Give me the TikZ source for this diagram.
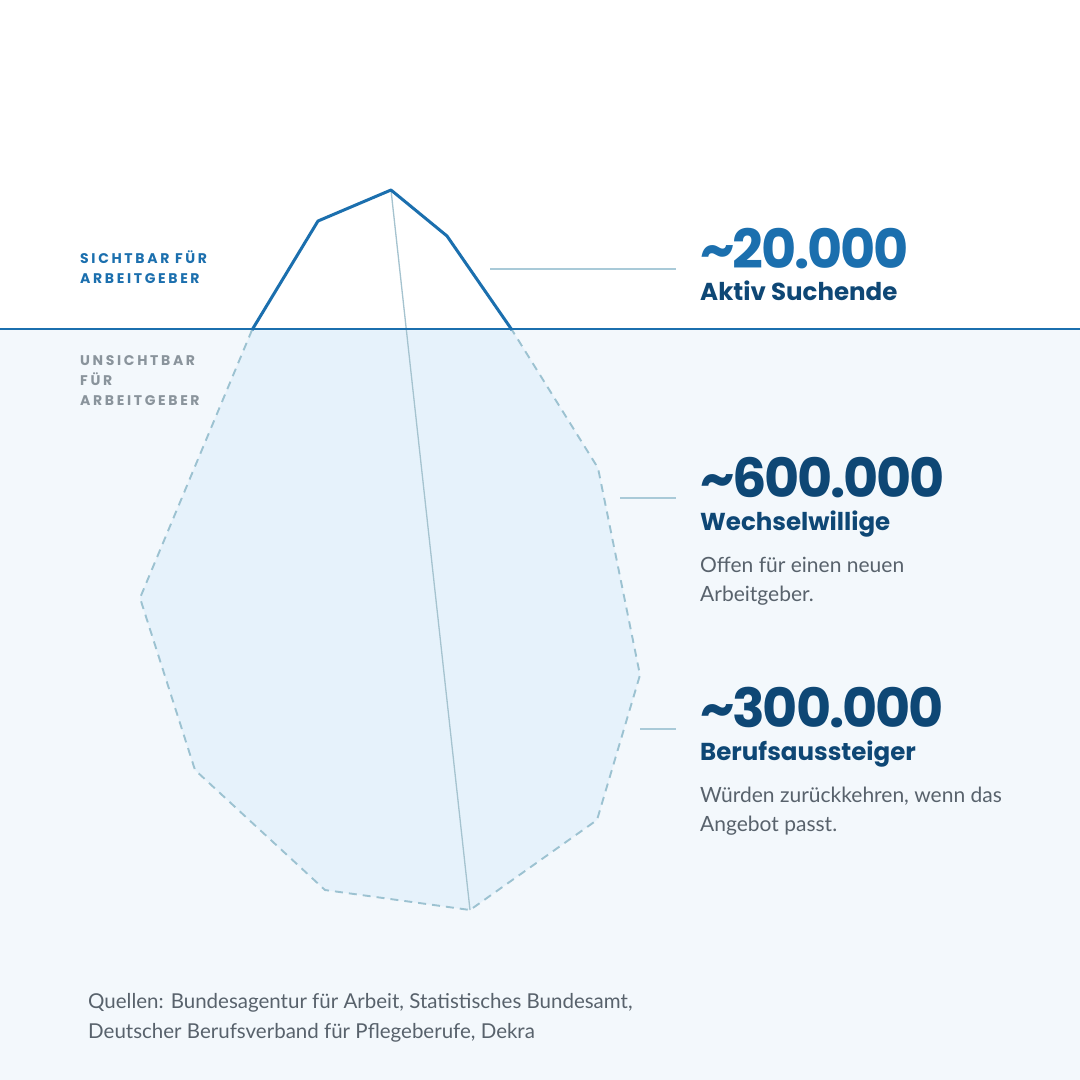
\documentclass[tikz,border=0pt]{standalone}
\usepackage{fontspec}
\setmainfont{Poppins}
\newfontfamily\bodyfont{Lato}
\usetikzlibrary{positioning,calc}
\definecolor{seablue}{HTML}{1B6FAE}
\definecolor{navy}{HTML}{0E4775}
\definecolor{textgray}{HTML}{58626C}
\definecolor{labelgray}{HTML}{8A949C}
\definecolor{waterbg}{HTML}{F3F8FC}
\definecolor{icefill}{HTML}{E6F2FB}
\definecolor{icedash}{HTML}{9CC2D1}
\definecolor{leader}{HTML}{A9CAD8}
\tikzstyle{bignum} = [anchor=base west, inner sep=0pt, text depth=0pt, font=\fontsize{54}{54}\selectfont\bfseries\addfontfeature{LetterSpace=-4}]
\tikzstyle{head} = [anchor=base west, inner sep=0pt, text height=17pt, navy, font=\fontsize{24.5}{25}\selectfont\bfseries]
\tikzstyle{desc} = [anchor=base west, inner sep=0pt, textgray, font=\bodyfont\fontsize{21}{21}\selectfont]
\tikzstyle{tag} = [anchor=base west, inner sep=0pt, font=\fontsize{14}{14}\selectfont\bfseries\addfontfeature{LetterSpace=19}]
\tikzstyle{lead} = [leader, line width=1.2pt]

\begin{document}
\begin{tikzpicture}[x=1pt,y=-1pt,line join=round]
        \useasboundingbox (0,0) rectangle (1080,1080);
        \fill[white] (0,0) rectangle (1080,329);
        \fill[waterbg] (0,329) rectangle (1080,1080);
        % iceberg
        \coordinate (wl) at (252,330);
        \coordinate (wr) at (512,330);
        \coordinate (peak) at (391,190);
        \coordinate (keel) at (470,910);
        \fill[icefill] (wl) -- (140,598) -- (195,770) -- (325,890) -- (keel) -- (597,820) -- (640,675) -- (598,468) -- (wr) -- cycle;
        \draw[icedash, line width=1.9pt, dash pattern=on 8pt off 6pt] (wl) -- (140,598) -- (195,770) -- (325,890) -- (keel) -- (597,820) -- (640,675) -- (598,468) -- (wr);
        \fill[white] (wl) -- (318,221) -- (peak) -- (447,236) -- (wr) -- cycle;
        \draw[leader!90!gray, line width=1.3pt] (peak) -- (keel);
        \draw[seablue, line width=3pt] (wl) -- (318,221) -- (peak) -- (447,236) -- (wr);
        \draw[seablue, line width=2.6pt] (0,329) -- (1080,329);
        % side tags
        \node[tag, seablue] (vis1) at (80,263) {SICHTBAR FÜR};
        \node[tag, seablue] (vis2) at (80,283) {ARBEITGEBER};
        \node[tag, labelgray] (inv1) at (80,365) {UNSICHTBAR};
        \node[tag, labelgray] (inv2) at (80,385) {FÜR};
        \node[tag, labelgray] (inv3) at (80,405) {ARBEITGEBER};
        % figures
        \node[bignum, seablue] (n1) at (700,268) {\textasciitilde20.000};
        \node[head] (h1) at (700,300) {Aktiv Suchende};
        \node[bignum, navy] (n2) at (700,497) {\textasciitilde600.000};
        \node[head] (h2) at (700,530) {Wechselwillige};
        \node[desc] (d2a) at (700,572) {Offen für einen neuen};
        \node[desc] (d2b) at (700,601) {Arbeitgeber.};
        \node[bignum, navy] (n3) at (700,727) {\textasciitilde300.000};
        \node[head] (h3) at (700,760) {Berufsaussteiger};
        \node[desc] (d3a) at (700,802) {Würden zurückkehren, wenn das};
        \node[desc] (d3b) at (700,831) {Angebot passt.};
        % leaders
        \coordinate (l1) at (490,269);
        \coordinate (l2) at (620,498);
        \coordinate (l3) at (640,729);
        \draw[lead] (l1) -- (l1 -| 676,0);
        \draw[lead] (l2) -- (l2 -| 676,0);
        \draw[lead] (l3) -- (l3 -| 676,0);
        % sources
        \node[desc, font=\bodyfont\fontsize{20.5}{21}\selectfont] (src1) at (88,1008) {Quellen: Bundesagentur für Arbeit, Statistisches Bundesamt,};
        \node[desc, font=\bodyfont\fontsize{20.5}{21}\selectfont] (src2) at (88,1038) {Deutscher Berufsverband für Pflegeberufe, Dekra};
    \end{tikzpicture}
\end{document}
